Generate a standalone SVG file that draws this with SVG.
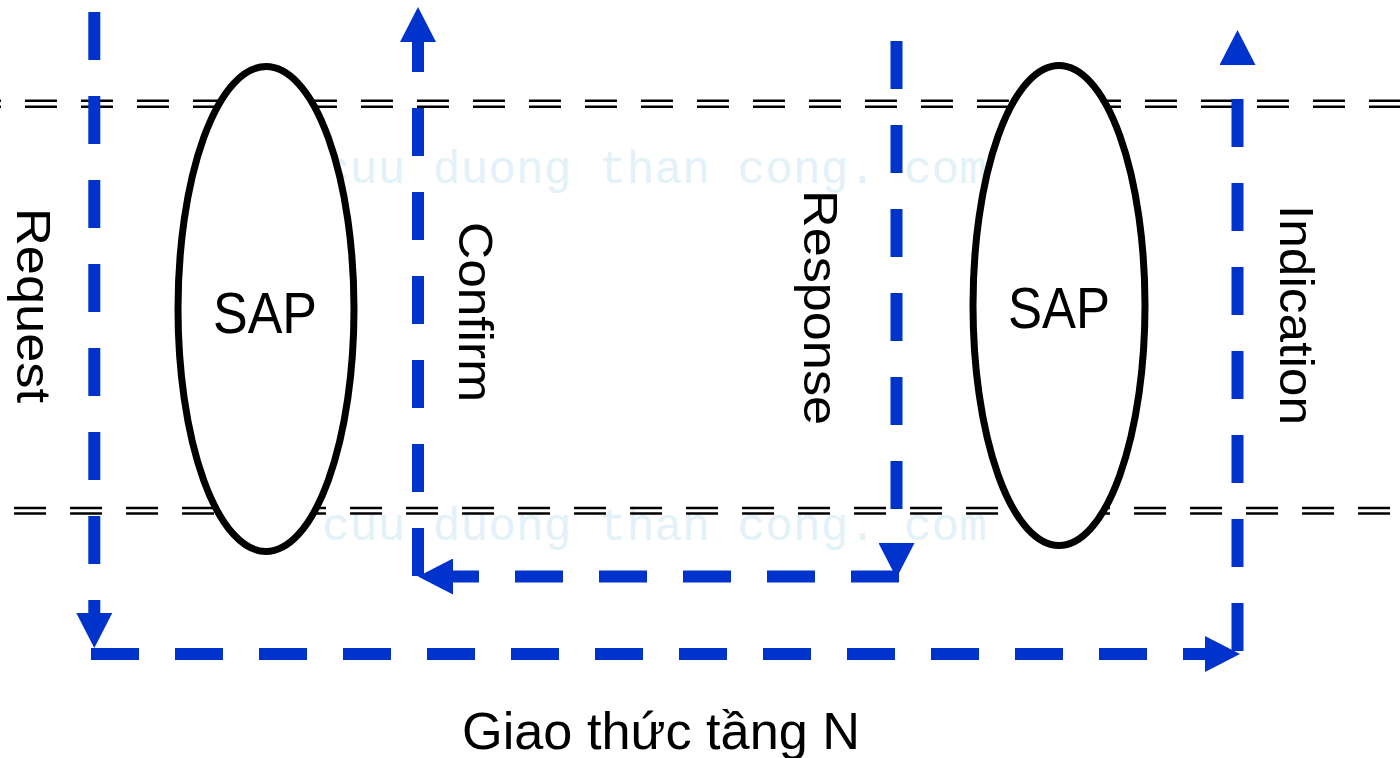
<svg xmlns="http://www.w3.org/2000/svg" width="1400" height="758" viewBox="0 0 1400 758">
  <style>
    .wm { font-family: "Liberation Mono", "DejaVu Sans Mono", monospace; font-size: 46px; fill: #e3f1f9; }
    .bound { stroke: #000; stroke-width: 2.5; stroke-dasharray: 32 24; fill: none; }
    .flow { stroke: #0033cc; stroke-width: 12; stroke-dasharray: 48 36; fill: none; marker-end: url(#arrow); }
    .sap { fill: #fff; stroke: #000; stroke-width: 7; }
    .lbl { font-family: "Liberation Sans", Arial, sans-serif; fill: #000; }
  </style>
  <defs>
    <marker id="arrow" markerUnits="userSpaceOnUse" markerWidth="36" markerHeight="36" refX="0" refY="18" orient="auto" viewBox="0 0 36 36">
      <path d="M0,0 L35,18 L0,36 Z" fill="#0033cc" stroke="none"/>
    </marker>
  </defs>
  <rect width="1400" height="758" fill="#fff"/>
  <g id="watermark">
    <text class="wm" x="322" y="183" textLength="665" lengthAdjust="spacingAndGlyphs">cuu duong than cong. com</text>
    <text class="wm" x="322" y="540" textLength="665" lengthAdjust="spacingAndGlyphs">cuu duong than cong. com</text>
  </g>
  <g id="layer-boundaries">
    <line class="bound" x1="0" y1="100.7" x2="1400" y2="100.7" stroke-dashoffset="31"/>
    <line class="bound" x1="0" y1="106.8" x2="1400" y2="106.8" stroke-dashoffset="31"/>
    <line class="bound" x1="0" y1="508" x2="1400" y2="508" stroke-dashoffset="42"/>
    <line class="bound" x1="0" y1="513.5" x2="1400" y2="513.5" stroke-dashoffset="42"/>
  </g>
  <g id="sap-left">
    <ellipse class="sap" cx="266" cy="309" rx="88" ry="242.5"/>
    <text class="lbl" x="265" y="333" font-size="58" text-anchor="middle" textLength="104" lengthAdjust="spacingAndGlyphs">SAP</text>
  </g>
  <g id="sap-right">
    <ellipse class="sap" cx="1059" cy="305.5" rx="86" ry="240"/>
    <text class="lbl" x="1059" y="328" font-size="58" text-anchor="middle" textLength="102" lengthAdjust="spacingAndGlyphs">SAP</text>
  </g>
  <g id="connectors">
    <path id="request" class="flow" d="M94.3,12 V613"/>
    <path id="protocol" class="flow" d="M91,654 H1205"/>
    <path id="indication" class="flow" d="M1237.5,651 V65"/>
    <path id="response" class="flow" d="M896.5,41 V543"/>
    <path id="confirm-h" class="flow" d="M899,576.5 H453"/>
    <path id="confirm-v" class="flow" d="M418,576 V42"/>
  </g>
  <g id="labels">
    <text class="lbl" font-size="48" text-anchor="middle" textLength="195" lengthAdjust="spacingAndGlyphs" transform="translate(17,305.5) rotate(90)">Request</text>
    <text class="lbl" font-size="48" text-anchor="middle" textLength="180" lengthAdjust="spacingAndGlyphs" transform="translate(459,312) rotate(90)">Confirm</text>
    <text class="lbl" font-size="48" text-anchor="middle" textLength="235" lengthAdjust="spacingAndGlyphs" transform="translate(804,307.5) rotate(90)">Response</text>
    <text class="lbl" font-size="48" text-anchor="middle" textLength="220" lengthAdjust="spacingAndGlyphs" transform="translate(1280,315) rotate(90)">Indication</text>
    <text class="lbl" x="661" y="749" font-size="52" text-anchor="middle" textLength="398" lengthAdjust="spacingAndGlyphs">Giao thức tầng N</text>
  </g>
</svg>
